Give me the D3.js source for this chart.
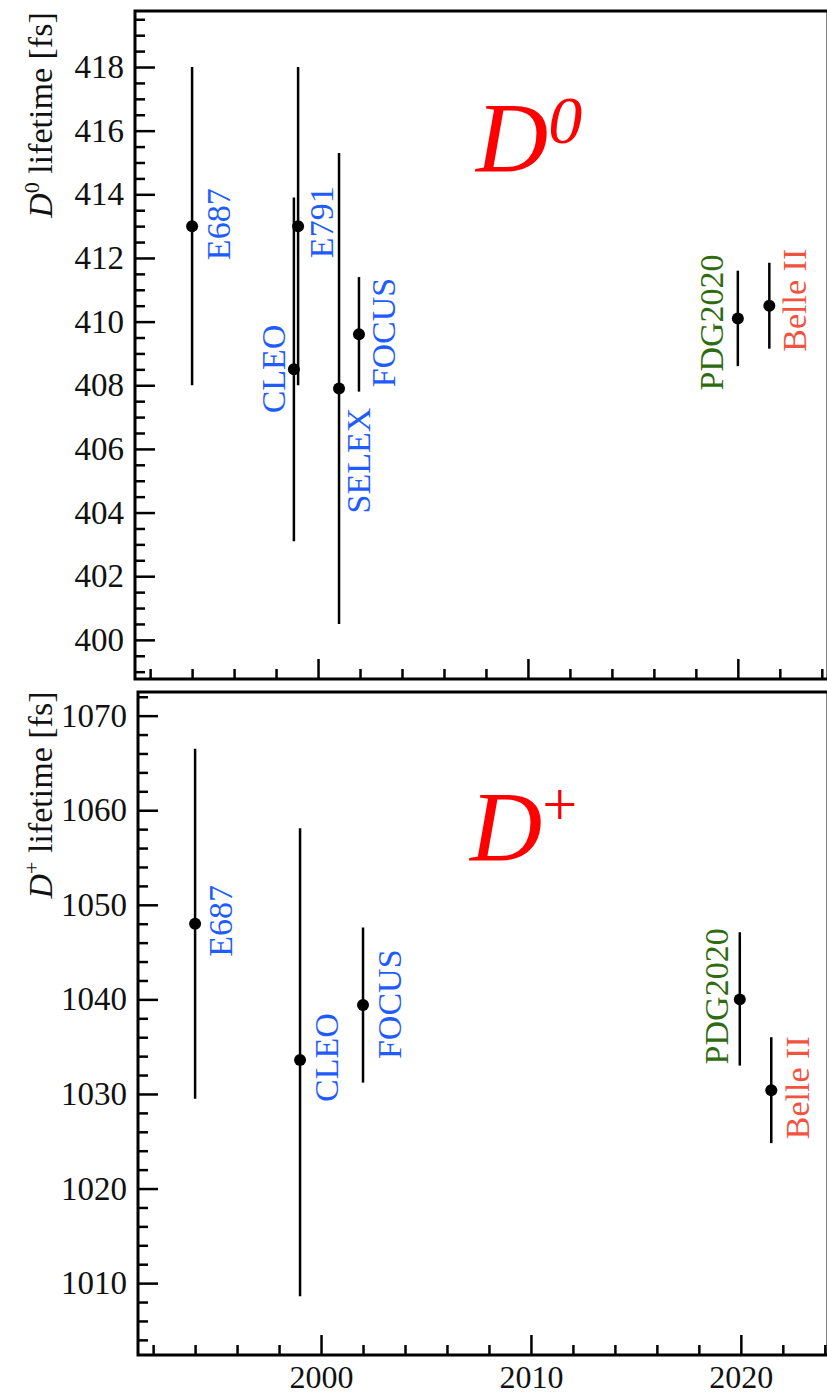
<!DOCTYPE html>
<html>
<head>
<meta charset="utf-8">
<script src="https://cdn.jsdelivr.net/npm/d3@7"></script>
<style>
  html, body { margin: 0; padding: 0; background: #fff; }
  svg { display: block; }
  text { font-family: "Liberation Serif", "DejaVu Serif", serif; }
</style>
</head>
<body>
<svg id="chart" width="827" height="1396"></svg>
<script>
// ---------- data ----------
// D0 panel
const d0Experiments = ["E687", "CLEO", "E791", "SELEX", "FOCUS", "PDG2020", "Belle II"];
const d0Years       = [1994, 1998.85, 1999.05, 2001, 2001.95, 2020, 2021.5];
const d0Values      = [413.0, 408.5, 413.0, 407.9, 409.6, 410.1, 410.5];
const d0ErrHigh     = [5.0, 5.4, 5.0, 7.4, 1.8, 1.5, 1.35];
const d0ErrLow      = [5.0, 5.4, 5.0, 7.4, 1.8, 1.5, 1.35];

// D+ panel
const dpExperiments = ["E687", "CLEO", "FOCUS", "PDG2020", "Belle II"];
const dpYears       = [1994, 1999, 2002, 2019.95, 2021.45];
const dpValues      = [1048.0, 1033.6, 1039.4, 1040.0, 1030.4];
const dpErrHigh     = [18.5, 24.5, 8.2, 7.1, 5.6];
const dpErrLow      = [18.5, 25.0, 8.2, 7.0, 5.6];

// tick labels
const xMajorTicks  = [2000, 2010, 2020];
const d0MajorTicks = [400, 402, 404, 406, 408, 410, 412, 414, 416, 418];
const dpMajorTicks = [1010, 1020, 1030, 1040, 1050, 1060, 1070];

// ---------- styling / layout ----------
const colorOf = name => name === "PDG2020" ? "#2f6b10" : (name === "Belle II" ? "#f2533f" : "#1f5cff");

// label placement (pixel offsets from the point, for rotated labels)
const d0LabelOffsets = [[38, 34], [-9, 44], [35, 32], [31, 125], [36, 53], [-15, 72], [37, 46]];
const dpLabelOffsets = [[37, 33], [38, 42], [38, 54], [-12, 65], [38, 49]];

const svg = d3.select("#chart");
const xDomain = [1991.28, 2024.2];

function panel(opts) {
  const g = svg.append("g");
  const x = d3.scaleLinear().domain(xDomain).range([opts.left, opts.left + 691]);
  const y = d3.scaleLinear().domain(opts.yDomain).range([opts.bottom, opts.top]);
  const right = 828;

  // frame
  g.append("path")
    .attr("d", `M${opts.left},${opts.bottom} L${opts.left},${opts.top} L${right},${opts.top} L${right},${opts.bottom} Z`)
    .attr("fill", "none").attr("stroke", "#000").attr("stroke-width", 3);

  // minor x ticks
  const xMinor = d3.range(1992, 2025, 2).filter(v => !xMajorTicks.includes(v));
  g.append("g").attr("transform", `translate(0,${opts.bottom})`)
    .call(d3.axisBottom(x).tickValues(xMinor).tickSize(-10).tickFormat(""))
    .call(a => a.select(".domain").remove())
    .call(a => a.selectAll("line").attr("stroke-width", 2.5));
  // major x ticks
  const xa = g.append("g").attr("transform", `translate(0,${opts.bottom})`)
    .call(d3.axisBottom(x).tickValues(xMajorTicks).tickSize(-20)
      .tickFormat(opts.xLabels ? d3.format("d") : ""))
    .call(a => a.select(".domain").remove())
    .call(a => a.selectAll("line").attr("stroke-width", 2.5));
  xa.selectAll("text").attr("font-size", 32).attr("fill", "#111")
    .attr("y", 33).attr("dy", 0)
    .style("font-family", '"Liberation Serif", serif');

  // minor y ticks
  g.append("g").attr("transform", `translate(${opts.left},0)`)
    .call(d3.axisLeft(y).tickValues(opts.yMinor).tickSize(-10).tickFormat(""))
    .call(a => a.select(".domain").remove())
    .call(a => a.selectAll("line").attr("stroke-width", 2.5));
  // major y ticks
  const ya = g.append("g").attr("transform", `translate(${opts.left},0)`)
    .call(d3.axisLeft(y).tickValues(opts.yMajor).tickSize(-20).tickPadding(11).tickFormat(d3.format("d")))
    .call(a => a.select(".domain").remove())
    .call(a => a.selectAll("line").attr("stroke-width", 2.5));
  ya.selectAll("text").attr("font-size", 33).attr("fill", "#111")
    .style("font-family", '"Liberation Serif", serif');

  // axis title
  const t = g.append("text")
    .attr("transform", `translate(52,${opts.titleY}) rotate(-90)`)
    .attr("text-anchor", "middle").attr("font-size", 34).attr("fill", "#111");
  t.append("tspan").attr("font-style", "italic").text("D");
  t.append("tspan").attr("dy", -13).attr("font-size", 22).text(opts.sup);
  t.append("tspan").attr("dy", 13).text(" lifetime [fs]");

  // data
  const data = opts.names.map((n, i) => ({
    name: n, year: opts.years[i], v: opts.values[i],
    hi: opts.values[i] + opts.errHigh[i], lo: opts.values[i] - opts.errLow[i],
    off: opts.offsets[i]
  }));

  g.selectAll(".err").data(data).join("line")
    .attr("x1", d => x(d.year)).attr("x2", d => x(d.year))
    .attr("y1", d => y(d.hi)).attr("y2", d => y(d.lo))
    .attr("stroke", "#000").attr("stroke-width", 2.5);

  g.selectAll(".pt").data(data).join("circle")
    .attr("cx", d => x(d.year)).attr("cy", d => y(d.v)).attr("r", 6)
    .attr("fill", "#000");

  g.selectAll(".lbl").data(data).join("text")
    .attr("transform", d => `translate(${x(d.year) + d.off[0]},${y(d.v) + d.off[1]}) rotate(-90)`)
    .attr("font-size", 34).attr("fill", d => colorOf(d.name))
    .text(d => d.name);

  // big label
  const big = g.append("text").attr("x", opts.bigX).attr("y", opts.bigY)
    .attr("fill", "#ff0000").attr("font-size", 100);
  big.append("tspan").attr("font-style", "italic").text("D");
  big.append("tspan").attr("dy", opts.bigSupDy).attr("font-size", opts.bigSupSize)
    .attr("font-style", opts.bigSupItalic ? "italic" : "normal").text(opts.sup);
}

panel({
  left: 135, top: 11, bottom: 679,
  yDomain: [398.77, 419.76],
  yMajor: d0MajorTicks,
  yMinor: d3.range(399, 419.6, 0.5).filter(v => !d0MajorTicks.includes(v)),
  xLabels: false,
  titleY: 115, sup: "0",
  names: d0Experiments, years: d0Years, values: d0Values, errHigh: d0ErrHigh, errLow: d0ErrLow,
  offsets: d0LabelOffsets,
  bigX: 476, bigY: 171, bigSupDy: -28, bigSupSize: 68, bigSupItalic: true
});

panel({
  left: 138, top: 692, bottom: 1355,
  yDomain: [1002.4, 1072.5],
  yMajor: dpMajorTicks,
  yMinor: d3.range(1004, 1073, 2).filter(v => !dpMajorTicks.includes(v)),
  xLabels: true,
  titleY: 795, sup: "+",
  names: dpExperiments, years: dpYears, values: dpValues, errHigh: dpErrHigh, errLow: dpErrLow,
  offsets: dpLabelOffsets,
  bigX: 470, bigY: 860, bigSupDy: -35, bigSupSize: 62, bigSupItalic: false
});
</script>
</body>
</html>
